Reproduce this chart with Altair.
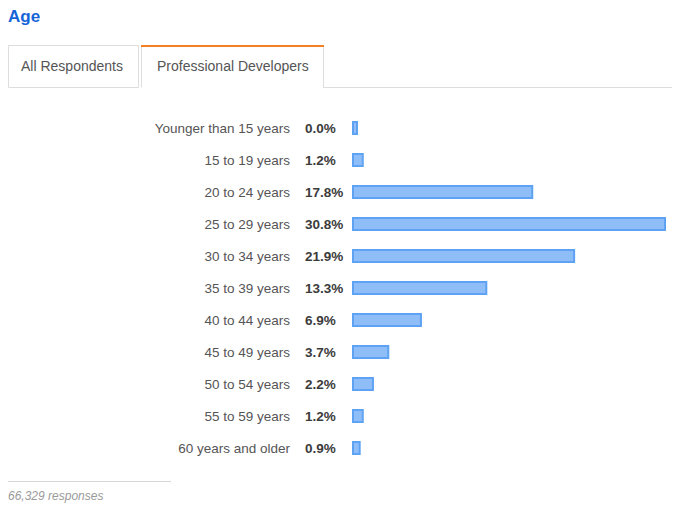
import altair as alt
import pandas as pd

categories = ["Younger than 15 years", "15 to 19 years", "20 to 24 years", "25 to 29 years",
              "30 to 34 years", "35 to 39 years", "40 to 44 years", "45 to 49 years",
              "50 to 54 years", "55 to 59 years", "60 years and older"]
values = [0.0, 1.2, 17.8, 30.8, 21.9, 13.3, 6.9, 3.7, 2.2, 1.2, 0.9]
title_text = "Age"
tabs = ["All Respondents", "Professional Developers"]
footer = "66,329 responses"

W, H = 668, 495
FONT = "Liberation Sans"

df = pd.DataFrame({"cat": categories, "value": values})
base = alt.Chart(df).transform_calculate(
    label="format(datum.value, '.1f') + '%'",
    shown="max(datum.value, 0.64)",
    zero="0",
)

yscale = alt.Scale(domain=categories, range=[104, 456], paddingInner=0, paddingOuter=0)
y = alt.Y("cat:N", sort=categories, scale=yscale, axis=None)
xscale = alt.Scale(domain=[0, 30.8], range=[342.5, 657], nice=False, zero=True)

bars = base.mark_bar(size=12, fill="#8fbdf8", stroke="#5ea3f3", strokeWidth=2, xOffset=2.5).encode(
    x=alt.X("zero:Q", scale=xscale, axis=None),
    x2=alt.X2("shown:Q"),
    y=y,
)

cat_text = base.mark_text(align="right", baseline="middle", font=FONT, fontSize=13.5, color="#555555", dy=1).encode(
    x=alt.value(282), y=y, text="cat:N"
)
pct_text = base.mark_text(align="left", baseline="middle", font=FONT, fontSize=13.5, fontWeight="bold",
                          color="#3b3b3b", dy=1).encode(
    x=alt.value(297), y=y, text="label:N"
)

one = alt.Data(values=[{}])
def rule(x1, y1, x2, y2, color="#dddddd", w=1):
    return alt.Chart(one).mark_rule(color=color, strokeWidth=w).encode(
        x=alt.value(x1), y=alt.value(y1), x2=alt.value(x2), y2=alt.value(y2))

def label(txt, x, yv, size, color, weight="normal", style="normal", baseline="middle"):
    return alt.Chart(one).mark_text(text=txt, font=FONT, fontSize=size, color=color, fontWeight=weight,
                                    fontStyle=style, align="left", baseline=baseline).encode(
        x=alt.value(x), y=alt.value(yv))

ox, oy = 8, 8
deco = [
    label(title_text, 0, 22 - oy, 17, "#1565d8", weight="bold", baseline="alphabetic"),
    # tab 1
    rule(0.5, 45.5 - oy, 138.5 - ox, 45.5 - oy),
    rule(0.5, 45.5 - oy, 0.5, 87.5 - oy),
    rule(138.5 - ox, 45.5 - oy, 138.5 - ox, 87.5 - oy),
    rule(0.5, 87.5 - oy, 138.5 - ox, 87.5 - oy),
    label(tabs[0], 21 - ox, 67 - oy, 14, "#555555"),
    # tab 2
    rule(141.5 - ox, 46 - oy, 141.5 - ox, 87.5 - oy),
    rule(323.5 - ox, 46 - oy, 323.5 - ox, 87.5 - oy),
    rule(141 - ox, 46 - oy, 324 - ox, 46 - oy, color="#f48024", w=2),
    rule(323.5 - ox, 87.5 - oy, 672 - ox, 87.5 - oy),
    label(tabs[1], 157 - ox, 67 - oy, 14, "#555555"),
    # footer
    rule(0, 481.5 - oy, 171 - ox, 481.5 - oy, color="#d6d6d6"),
    label(footer, 0, 496 - oy, 12, "#9a9a9a", style="italic"),
]

chart = alt.layer(bars, cat_text, pct_text, *deco).properties(
    width=W, height=H, autosize=alt.AutoSizeParams(type="none"), padding=0
).configure_view(stroke=None)

chart.save("out.html", embed_options={"renderer": "svg", "actions": False})
